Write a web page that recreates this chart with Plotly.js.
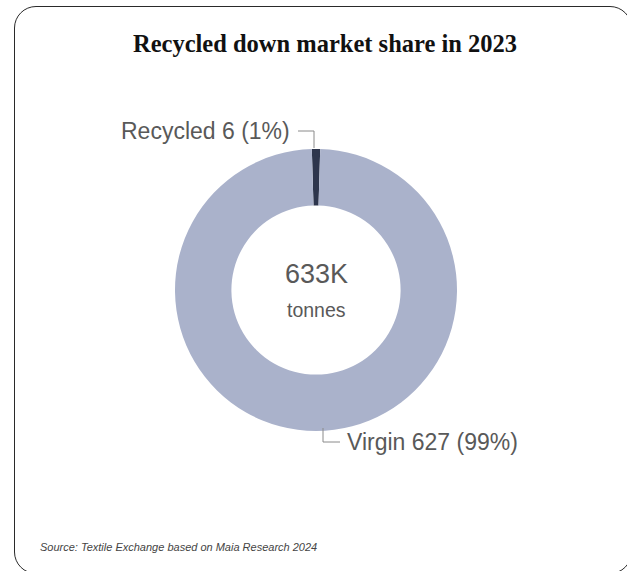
<!DOCTYPE html>
<html>
<head>
<meta charset="utf-8">
<script src="https://cdn.plot.ly/plotly-3.0.1.min.js"></script>
<style>
  html, body { margin: 0; padding: 0; background: #fff; overflow: hidden; }
  #wrap { position: relative; width: 627px; height: 571px; }
  #chart { position: absolute; left: 0; top: 0; width: 627px; height: 571px; }
  #frame { position: absolute; left: 14px; top: 6px; width: 616px; height: 566px;
           border: 1.6px solid #2a2a2a; border-radius: 22px; pointer-events: none; }
</style>
</head>
<body>
<div id="wrap">
  <div id="chart"></div>
  <div id="frame"></div>
</div>
<script>
// Data
const categories = ["Recycled", "Virgin"];
const values = [6, 627];            // thousand tonnes
const percents = ["1%", "99%"];
const sliceColors = ["#2e364d", "#aab2cb"];
const totalLabel = "633K";
const unitLabel = "tonnes";
const titleText = "Recycled down market share in 2023";
const sourceText = "Source: Textile Exchange based on Maia Research 2024";

const W = 627, H = 571;
const px = x => x / W;
const py = y => 1 - y / H;

const cx = 316, cy = 290, R = 141;

const trace = {
  type: "pie",
  labels: categories,
  values: values,
  hole: 0.6,
  sort: false,
  direction: "clockwise",
  rotation: -1.7,
  textinfo: "none",
  hoverinfo: "label+value+percent",
  marker: { colors: sliceColors, line: { width: 0 } },
  domain: { x: [px(cx - R), px(cx + R)], y: [py(cy + R), py(cy - R)] },
  showlegend: false
};

const labelFont = { family: "Liberation Sans, Arial, sans-serif", size: 23, color: "#595959" };

const layout = {
  width: W, height: H,
  margin: { l: 0, r: 0, t: 0, b: 0 },
  paper_bgcolor: "rgba(0,0,0,0)",
  plot_bgcolor: "rgba(0,0,0,0)",
  showlegend: false,
  title: {
    text: titleText,
    font: { family: "Liberation Serif, DejaVu Serif, serif", size: 24.5, color: "#111", weight: "bold" },
    x: px(325), xanchor: "center", y: py(43), yanchor: "middle"
  },
  annotations: [
    { text: categories[0] + " " + values[0] + " (" + percents[0] + ")", x: px(292), y: py(131),
      xref: "paper", yref: "paper", xanchor: "right", yanchor: "middle", showarrow: false, font: labelFont },
    { text: categories[1] + " " + values[1] + " (" + percents[1] + ")", x: px(345), y: py(442),
      xref: "paper", yref: "paper", xanchor: "left", yanchor: "middle", showarrow: false, font: labelFont },
    { text: totalLabel, x: px(316), y: py(274), xref: "paper", yref: "paper", xanchor: "center", yanchor: "middle",
      showarrow: false, font: { family: "Liberation Sans, Arial, sans-serif", size: 27, color: "#595959" } },
    { text: unitLabel, x: px(316), y: py(310), xref: "paper", yref: "paper", xanchor: "center", yanchor: "middle",
      showarrow: false, font: { family: "Liberation Sans, Arial, sans-serif", size: 19.5, color: "#595959" } },
    { text: "<i>" + sourceText + "</i>", x: px(38), y: py(547), xref: "paper", yref: "paper", xanchor: "left", yanchor: "middle",
      showarrow: false, font: { family: "Liberation Sans, Arial, sans-serif", size: 11, color: "#444" } }
  ],
  shapes: [
    { type: "path", xref: "paper", yref: "paper",
      path: `M ${px(298)} ${py(131)} L ${px(314)} ${py(131)} L ${px(314)} ${py(148)}`,
      line: { color: "#8a8a8a", width: 1 } },
    { type: "path", xref: "paper", yref: "paper",
      path: `M ${px(323)} ${py(428)} L ${px(323)} ${py(442)} L ${px(340)} ${py(442)}`,
      line: { color: "#8a8a8a", width: 1 } }
  ]
};

Plotly.newPlot("chart", [trace], layout, { displayModeBar: false, staticPlot: true });
</script>
</body>
</html>
